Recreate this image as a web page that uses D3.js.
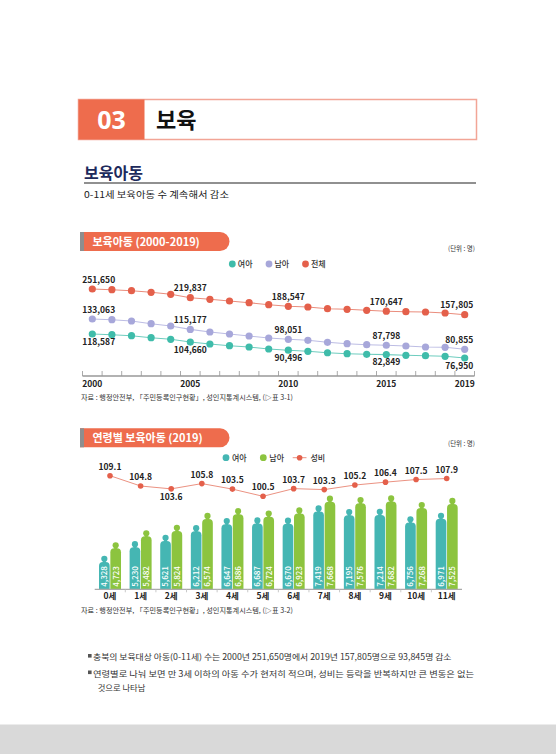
<!DOCTYPE html>
<html>
<head>
<meta charset="utf-8">
<script src="https://cdn.jsdelivr.net/npm/d3@7"></script>
<style>
  body { margin: 0; background: #fff; }
  svg { display: block; font-family: "Noto Sans CJK KR", "Noto Sans", sans-serif; }
</style>
</head>
<body>
<svg id="page" width="556" height="754"></svg>
<script>
// ---- data: 보육아동 (2000-2019)
const years = [2000, 2001, 2002, 2003, 2004, 2005, 2006, 2007, 2008, 2009,
               2010, 2011, 2012, 2013, 2014, 2015, 2016, 2017, 2018, 2019];
const totalKids = [251650, 249100, 245400, 239600, 232300, 219837, 214000, 207800, 201600, 194300,
                   188547, 185900, 179700, 177500, 173900, 170647, 168800, 167700, 164000, 157805];
const boys = [133063, 131900, 129600, 125000, 121000, 115177, 110700, 107200, 103800, 100300,
              98051, 96400, 92900, 90500, 88800, 87798, 86500, 84800, 84300, 80855];
const girls = [118587, 117400, 115600, 112200, 109400, 104660, 101200, 98300, 96000, 92600,
               90496, 88600, 86100, 84400, 83400, 82849, 81600, 80900, 79900, 76950];
const labelYears = [2000, 2005, 2010, 2015, 2019];

// ---- data: 연령별 보육아동 (2019)
const ages = ['0세', '1세', '2세', '3세', '4세', '5세', '6세', '7세', '8세', '9세', '10세', '11세'];
const girls2019 = [4328, 5230, 5621, 6212, 6647, 6687, 6670, 7419, 7195, 7214, 6756, 6971];
const boys2019 = [4723, 5482, 5824, 6574, 6886, 6724, 6923, 7668, 7576, 7682, 7268, 7525];
const sexRatio = [109.1, 104.8, 103.6, 105.8, 103.5, 100.5, 103.7, 103.3, 105.2, 106.4, 107.5, 107.9];

const ORANGE = '#ee6c4d';
const TEAL = '#3fbcaa';
const LAV = '#a7a7da';
const RED = '#e4604b';
const TEAL2 = '#45b6b3';
const GREEN = '#8cc43f';

const svg = d3.select('#page');
const fmt = d3.format(',');

// ---- page header
svg.append('rect').attr('x', 78.5).attr('y', 99.5).attr('width', 398).attr('height', 40)
  .attr('fill', '#fff').attr('stroke', '#f2a596').attr('stroke-width', 1.5);
svg.append('rect').attr('x', 78.5).attr('y', 99.5).attr('width', 66).attr('height', 40)
  .attr('fill', ORANGE);
svg.append('text').attr('x', 111.5).attr('y', 128.5).attr('text-anchor', 'middle')
  .attr('font-family', '"Noto Sans", sans-serif')
  .attr('font-size', 25).attr('font-weight', 'bold').attr('fill', '#fff').text('03');
svg.append('text').attr('x', 156).attr('y', 128).attr('font-size', 22)
  .attr('font-weight', 'bold').attr('fill', '#111').text('보육');

svg.append('text').attr('x', 84).attr('y', 178.5).attr('font-size', 16)
  .attr('font-weight', 'bold').attr('fill', '#1d2a5c').text('보육아동');
svg.append('line').attr('x1', 84).attr('x2', 476).attr('y1', 183).attr('y2', 183)
  .attr('stroke', '#222').attr('stroke-width', 1.2);
svg.append('text').attr('x', 84).attr('y', 197.5).attr('font-size', 9).attr('fill', '#222')
  .attr('textLength', 145).attr('lengthAdjust', 'spacingAndGlyphs')
  .text('0-11세 보육아동 수 계속해서 감소');

// pill-shaped chart title with grey strip on the left
function pill(top, label) {
  const h = 19, x0 = 80, x1 = 229.5, r = h / 2;
  svg.append('path')
    .attr('d', `M${x0},${top}H${x1 - r}A${r},${r} 0 0 1 ${x1 - r},${top + h}H${x0}Z`)
    .attr('fill', ORANGE);
  svg.append('rect').attr('x', x0).attr('y', top).attr('width', 4).attr('height', h).attr('fill', '#8e8e8e');
  svg.append('text').attr('x', 92.5).attr('y', top + 14).attr('font-size', 11)
    .attr('font-weight', 'bold').attr('fill', '#fff').text(label);
}

function unit(y) {
  svg.append('text').attr('x', 475).attr('y', y).attr('text-anchor', 'end')
    .attr('font-size', 6.5).attr('fill', '#333').text('(단위 : 명)');
}

function source(y, ref) {
  svg.append('text').attr('x', 81).attr('y', y).attr('font-size', 7).attr('fill', '#333')
    .attr('textLength', 212).attr('lengthAdjust', 'spacingAndGlyphs')
    .text(`자료 : 행정안전부, 「주민등록인구현황」, 성인지통계시스템, (▷표 ${ref})`);
}

// ================= chart 1 : line chart =================
pill(232, '보육아동 (2000-2019)');
unit(250.8);

const x1 = d3.scaleBand().domain(years).range([82.5, 474.5]);
const cx1 = d => x1(d) + x1.bandwidth() / 2;

// each series sits in its own lane, as in the original figure
const series1 = [
  { key: '전체', values: totalKids, color: RED, line: '#ea8d7d',
    y: d3.scaleLinear().domain(d3.extent(totalKids)).range([314.7, 289]), pos: 'above' },
  { key: '남아', values: boys, color: LAV, line: '#bdbde4',
    y: d3.scaleLinear().domain(d3.extent(boys)).range([349.3, 319]), pos: 'above' },
  { key: '여아', values: girls, color: TEAL, line: '#6fcdbf',
    y: d3.scaleLinear().domain(d3.extent(girls)).range([358, 334]), pos: 'below' }
];

const g1 = svg.append('g');

// axis
const axisY = 376;
g1.append('g').selectAll('line').data(years.concat([null])).join('line')
  .attr('x1', (d, i) => 82.5 + i * x1.step()).attr('x2', (d, i) => 82.5 + i * x1.step())
  .attr('y1', axisY - 5).attr('y2', axisY)
  .attr('stroke', '#aaa').attr('stroke-width', 1);
g1.append('line').attr('x1', 82.5).attr('x2', 474.5).attr('y1', axisY).attr('y2', axisY)
  .attr('stroke', '#999').attr('stroke-width', 1.5);
g1.append('g').selectAll('text').data(labelYears).join('text')
  .attr('x', d => cx1(d)).attr('y', axisY + 10.5).attr('text-anchor', 'middle')
  .attr('font-size', 8.5).attr('font-weight', 'bold').attr('fill', '#222').text(d => d);

series1.forEach(s => {
  const pts = years.map((yr, i) => [cx1(yr), s.y(s.values[i])]);
  g1.append('path').attr('d', d3.line()(pts)).attr('fill', 'none')
    .attr('stroke', s.line).attr('stroke-width', 1.1);
  g1.append('g').selectAll('circle').data(pts).join('circle')
    .attr('cx', d => d[0]).attr('cy', d => d[1]).attr('r', 3.6).attr('fill', s.color);
  const lab = labelYears.map(yr => ({ yr, v: s.values[years.indexOf(yr)] }));
  g1.append('g').selectAll('text').data(lab).join('text')
    .attr('x', d => d.yr === 2000 ? cx1(d.yr) - 10 : d.yr === 2019 ? cx1(d.yr) + 8.5 : cx1(d.yr))
    .attr('y', d => s.pos === 'above' ? s.y(d.v) - 6.3 : s.y(d.v) + 10.7)
    .attr('text-anchor', d => d.yr === 2000 ? 'start' : d.yr === 2019 ? 'end' : 'middle')
    .attr('font-size', 8.5).attr('font-weight', 'bold').attr('fill', '#222')
    .text(d => fmt(d.v));
});

// legend 1
const legend1 = [
  { key: '여아', color: TEAL, x: 232.3 },
  { key: '남아', color: LAV, x: 269 },
  { key: '전체', color: RED, x: 305.5 }
];
const lg1 = g1.append('g').selectAll('g').data(legend1).join('g');
lg1.append('circle').attr('cx', d => d.x).attr('cy', 264).attr('r', 3.4).attr('fill', d => d.color);
lg1.append('text').attr('x', d => d.x + 5.5).attr('y', 267).attr('font-size', 8)
  .attr('font-weight', 500).attr('fill', '#333').text(d => d.key);

source(399.7, '3-1');

// ================= chart 2 : person bars + sex ratio =================
pill(428.3, '연령별 보육아동 (2019)');
unit(446.3);

const g2 = svg.append('g');
const base2 = 589.3;
const x2 = d3.scaleBand().domain(ages).range([94.7, 462]);
const inner = d3.scaleBand().domain(['여아', '남아']).range([0, 22]).paddingInner(0.06);
const yGirl2 = d3.scaleLinear().domain([4000, 8000]).range([561.1, 495.9]);
const yBoy2 = d3.scaleLinear().domain([4000, 8000]).range([553.6, 490.3]);
const yRatio = d3.scaleLinear().domain([100.5, 109.1]).range([496.3, 475.7]);

// person-like bar: head, neck and round-shouldered body
function person(sel, x, w, top, color) {
  const r = 3.1, cx = x + w / 2, yb = top + 6.2, rr = 4;
  sel.append('circle').attr('cx', cx).attr('cy', top + r).attr('r', r).attr('fill', color);
  sel.append('rect').attr('x', cx - 1.4).attr('y', top + r).attr('width', 2.8).attr('height', 4).attr('fill', color);
  sel.append('path')
    .attr('d', `M${x},${base2}V${yb + rr}Q${x},${yb} ${x + rr},${yb}H${x + w - rr}Q${x + w},${yb} ${x + w},${yb + rr}V${base2}Z`)
    .attr('fill', color);
}

const bars = [];
ages.forEach((a, i) => {
  bars.push({ a, key: '여아', v: girls2019[i], top: yGirl2(girls2019[i]), color: TEAL2 });
  bars.push({ a, key: '남아', v: boys2019[i], top: yBoy2(boys2019[i]), color: GREEN });
});

const barG = g2.append('g');
bars.forEach(b => {
  const x = x2(b.a) + x2.bandwidth() / 2 - 11 + inner(b.key);
  const w = inner.bandwidth();
  const gb = barG.append('g');
  person(gb, x, w, b.top, b.color);
  gb.append('text')
    .attr('transform', `translate(${x + w / 2},${base2 - 2.5}) rotate(-90)`)
    .attr('dy', '0.36em').attr('font-size', 8).attr('fill', '#fff').attr('font-weight', 500)
    .text(fmt(b.v));
});

// axis 2
g2.append('line').attr('x1', 94.7).attr('x2', 462).attr('y1', base2).attr('y2', base2)
  .attr('stroke', '#aaa').attr('stroke-width', 1.3);
g2.append('g').selectAll('line').data(ages.slice(1)).join('line')
  .attr('x1', d => x2(d)).attr('x2', d => x2(d)).attr('y1', base2).attr('y2', base2 + 3)
  .attr('stroke', '#bbb').attr('stroke-width', 0.8);
g2.append('g').selectAll('text').data(ages).join('text')
  .attr('x', d => x2(d) + x2.bandwidth() / 2).attr('y', base2 + 9.5).attr('text-anchor', 'middle')
  .attr('font-size', 8.5).attr('font-weight', 'bold').attr('fill', '#222').text(d => d);

// sex ratio line
const rPts = ages.map((a, i) => [x2(a) + x2.bandwidth() / 2, yRatio(sexRatio[i])]);
g2.append('path').attr('d', d3.line()(rPts)).attr('fill', 'none')
  .attr('stroke', '#eb9282').attr('stroke-width', 1);
g2.append('g').selectAll('circle').data(rPts).join('circle')
  .attr('cx', d => d[0]).attr('cy', d => d[1]).attr('r', 2.8).attr('fill', RED);
g2.append('g').selectAll('text').data(sexRatio).join('text')
  .attr('x', (d, i) => rPts[i][0]).attr('y', (d, i) => ages[i] === '2세' ? rPts[i][1] + 11.5 : rPts[i][1] - 6)
  .attr('text-anchor', 'middle').attr('font-size', 8.5).attr('font-weight', 'bold').attr('fill', '#222')
  .text(d => d.toFixed(1));

// legend 2
const lg2 = g2.append('g');
[{ key: '여아', color: TEAL2, x: 226 }, { key: '남아', color: GREEN, x: 263.3 }].forEach(d => {
  lg2.append('circle').attr('cx', d.x).attr('cy', 457.7).attr('r', 3.4).attr('fill', d.color);
  lg2.append('text').attr('x', d.x + 6).attr('y', 460.7).attr('font-size', 8)
    .attr('font-weight', 500).attr('fill', '#333').text(d.key);
});
lg2.append('line').attr('x1', 292.7).attr('x2', 306.5).attr('y1', 457.7).attr('y2', 457.7)
  .attr('stroke', '#eb9282').attr('stroke-width', 1);
lg2.append('circle').attr('cx', 299.6).attr('cy', 457.7).attr('r', 2.8).attr('fill', RED);
lg2.append('text').attr('x', 310.5).attr('y', 460.7).attr('font-size', 8)
  .attr('font-weight', 500).attr('fill', '#333').text('성비');

source(613, '3-2');

// ---- bullet notes
const notes = [
  { y: 660, x: 93, text: '충북의 보육대상 아동(0-11세) 수는 2000년 251,650명에서 2019년 157,805명으로 93,845명 감소', len: 358.5, bullet: true },
  { y: 676.5, x: 93, text: '연령별로 나눠 보면 만 3세 이하의 아동 수가 현저히 적으며, 성비는 등락을 반복하지만 큰 변동은 없는', len: 381, bullet: true },
  { y: 691, x: 97.7, text: '것으로 나타남', len: null, bullet: false }
];
notes.forEach(n => {
  if (n.bullet) {
    svg.append('rect').attr('x', 88).attr('y', n.y - 6).attr('width', 3.6).attr('height', 3.6).attr('fill', '#555');
  }
  const t = svg.append('text').attr('x', n.x).attr('y', n.y).attr('font-size', 8.3).attr('fill', '#333').text(n.text);
  if (n.len) t.attr('textLength', n.len).attr('lengthAdjust', 'spacingAndGlyphs');
});

// footer band
svg.append('rect').attr('x', 0).attr('y', 724.5).attr('width', 556).attr('height', 30).attr('fill', '#d9d9d9');
</script>
</body>
</html>
